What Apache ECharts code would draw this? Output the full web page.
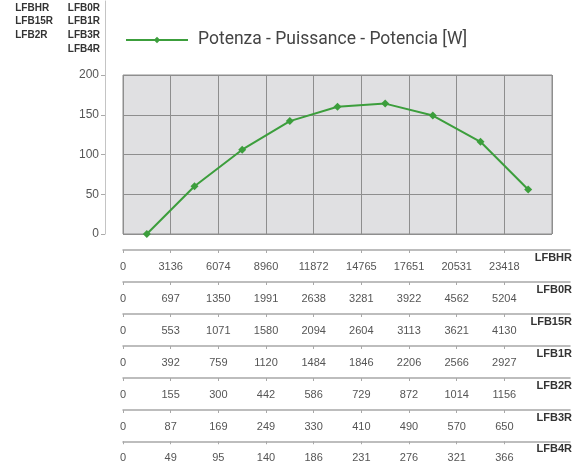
<!DOCTYPE html>
<html>
<head>
<meta charset="utf-8">
<script src="https://cdn.jsdelivr.net/npm/echarts@6/dist/echarts.min.js"></script>
<style>
  html, body { margin: 0; padding: 0; background: #fff; }
  #chart { width: 579px; height: 463px; }
</style>
</head>
<body>
<div id="chart"></div>
<script>
// power curve, one point per column
const categories = ['c1', 'c2', 'c3', 'c4', 'c5', 'c6', 'c7', 'c8', 'c9']
const power = [0, 60, 106, 142, 160, 164, 149, 116, 56]
const yTicks = [0, 50, 100, 150, 200]

// flow scales under the chart, one row per model
const models = ['LFBHR', 'LFB0R', 'LFB15R', 'LFB1R', 'LFB2R', 'LFB3R', 'LFB4R']
const rowLabels = [
  ['0', '3136', '6074', '8960', '11872', '14765', '17651', '20531', '23418'],
  ['0', '697', '1350', '1991', '2638', '3281', '3922', '4562', '5204'],
  ['0', '553', '1071', '1580', '2094', '2604', '3113', '3621', '4130'],
  ['0', '392', '759', '1120', '1484', '1846', '2206', '2566', '2927'],
  ['0', '155', '300', '442', '586', '729', '872', '1014', '1156'],
  ['0', '87', '169', '249', '330', '410', '490', '570', '650'],
  ['0', '49', '95', '140', '186', '231', '276', '321', '366'],
]
const leftModels = ['LFBHR', 'LFB15R', 'LFB2R']
const rightModels = ['LFB0R', 'LFB1R', 'LFB3R', 'LFB4R']

const seriesName = 'Potenza - Puissance - Potencia [W]'
const green = '#3c9e3c'
const sans = '"Liberation Sans", Arial, sans-serif'

const chart = echarts.init(document.getElementById('chart'), null, { renderer: 'canvas' })

const grids = [
  // y scale only (its line runs up to the top)
  { left: 105, width: 1, top: 1, height: 233 },
  // plot
  { left: 123, width: 429, top: 75, height: 159, show: true, backgroundColor: '#e0e0e2', borderColor: '#8e8e8e', borderWidth: 1 },
]
const xAxes = [
  { gridIndex: 0, type: 'value', show: false },
  {
    gridIndex: 1, type: 'category', data: categories, boundaryGap: true,
    axisLine: { show: false }, axisTick: { show: false }, axisLabel: { show: false },
    splitLine: { show: true, lineStyle: { color: '#8e8e8e', width: 1 } },
  },
]
const yAxes = [
  {
    gridIndex: 0, type: 'value', min: 0, max: 293.1,
    axisLine: { show: true, lineStyle: { color: '#c4c4c4', width: 1 } },
    axisTick: { show: true, length: 4, lineStyle: { color: '#aaa' }, customValues: yTicks },
    axisLabel: { margin: 6, color: '#555', fontFamily: sans, fontSize: 12, customValues: yTicks },
    splitLine: { show: false },
  },
  {
    gridIndex: 1, type: 'value', min: 0, max: 200, interval: 50,
    axisLine: { show: false }, axisTick: { show: false }, axisLabel: { show: false },
    splitLine: { show: true, lineStyle: { color: '#8e8e8e', width: 1 } },
  },
]

const tickIdx = [0, 1, 2, 3, 4, 5, 6, 7, 8]
models.forEach((name, i) => {
  const lineY = Math.round(249.5 + i * 32.03)
  grids.push({ left: 123, right: 9, top: lineY - 1, height: 1 })
  const labels = rowLabels[i]
  xAxes.push({
    gridIndex: i + 2, type: 'value', min: 0, max: 9.377, position: 'bottom',
    axisLine: { show: true, lineStyle: { color: '#a8a8a8', width: 1.5 } },
    axisTick: { show: true, length: 3, lineStyle: { color: '#a8a8a8' }, customValues: tickIdx },
    axisLabel: {
      margin: 11, color: '#555', fontFamily: sans, fontSize: 11,
      customValues: tickIdx, formatter: v => labels[Math.round(v)] ?? '',
    },
    splitLine: { show: false },
    name: name, nameLocation: 'end', nameGap: 2,
    nameTextStyle: {
      align: 'right', verticalAlign: 'top', padding: [2, 0, 0, 0],
      color: '#333', fontFamily: sans, fontSize: 11, fontWeight: 'bold',
    },
  })
  yAxes.push({ gridIndex: i + 2, type: 'value', show: false })
})

chart.setOption({
  animation: false,
  grid: grids,
  xAxis: xAxes,
  yAxis: yAxes,
  legend: {
    left: 125, top: 31, padding: 0,
    itemWidth: 62, itemHeight: 8,
    textStyle: { color: '#444', fontFamily: 'Roboto, sans-serif', fontSize: 17.5, padding: [0, 0, 0, 5] },
    data: [seriesName],
  },
  graphic: [
    {
      type: 'text', right: 526, top: 1,
      style: { text: leftModels.join('\n'), align: 'right', lineHeight: 13.7, fill: '#333', font: 'bold 10px "Liberation Sans", Arial, sans-serif' },
    },
    {
      type: 'text', right: 479, top: 1,
      style: { text: rightModels.join('\n'), align: 'right', lineHeight: 13.7, fill: '#333', font: 'bold 10px "Liberation Sans", Arial, sans-serif' },
    },
  ],
  series: [{
    name: seriesName,
    type: 'line',
    xAxisIndex: 1, yAxisIndex: 1,
    data: power,
    symbol: 'diamond', symbolSize: 8,
    lineStyle: { color: green, width: 2 },
    itemStyle: { color: green },
  }],
})
</script>
</body>
</html>
